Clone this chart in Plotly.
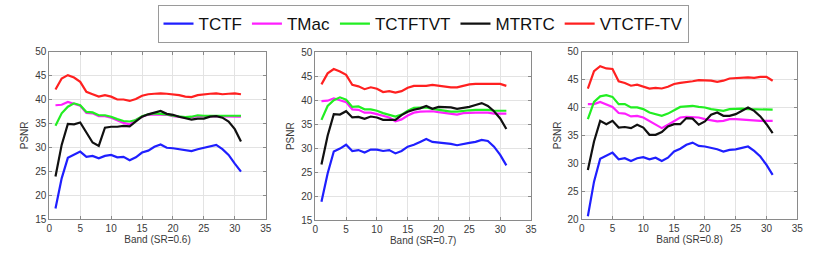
import plotly.graph_objects as go

bands = list(range(1, 32))
series_names = ["TCTF", "TMac", "TCTFTVT", "MTRTC", "VTCTF-TV"]
series_colors = ["#1f1fff", "#ff1fff", "#22ee22", "#111111", "#ff2020"]

# SR = 0.6
p1_tctf = [17.2, 23.5, 27.8, 28.4, 29.1, 28.0, 28.2, 27.7, 28.2, 28.4, 27.9, 28.0, 27.3, 27.9, 28.9, 29.3,
           30.1, 30.6, 29.9, 29.8, 29.6, 29.4, 29.2, 29.6, 29.9, 30.3, 30.5, 29.6, 28.4, 26.6, 24.9]
p1_tmac = [38.8, 38.9, 39.5, 39.1, 38.7, 37.2, 37.1, 36.5, 36.5, 36.2, 35.7, 35.1, 34.8, 35.7, 36.4, 36.8,
           36.9, 36.9, 36.8, 36.5, 36.3, 36.2, 36.3, 36.5, 36.5, 36.5, 36.5, 36.4, 36.4, 36.4, 36.4]
p1_tctftvt = [34.5, 37.1, 38.5, 39.2, 38.8, 37.4, 37.3, 36.7, 36.7, 36.4, 35.9, 35.5, 35.4, 35.7, 36.5, 36.9,
              37.1, 37.0, 36.9, 36.6, 36.5, 36.3, 36.4, 36.7, 36.6, 36.6, 36.6, 36.6, 36.6, 36.6, 36.6]
p1_mtrtc = [23.9, 30.5, 34.9, 34.8, 35.2, 33.1, 31.0, 30.3, 34.1, 34.3, 34.3, 34.5, 34.4, 35.4, 36.4, 36.9,
            37.3, 37.6, 37.0, 36.8, 36.4, 36.1, 35.8, 36.0, 36.0, 36.4, 36.5, 36.2, 35.4, 33.8, 31.2]
p1_vtctf = [42.1, 44.4, 45.1, 44.6, 43.7, 41.6, 41.1, 40.6, 40.9, 40.6, 40.0, 40.0, 39.7, 40.1, 40.8, 41.1,
            41.2, 41.3, 41.2, 41.1, 40.9, 40.6, 40.5, 40.9, 41.1, 41.2, 41.3, 41.1, 41.2, 41.3, 41.1]

# SR = 0.7
p2_tctf = [18.8, 24.7, 29.3, 29.9, 30.7, 29.4, 29.6, 29.1, 29.7, 29.7, 29.4, 29.6, 28.9, 29.4, 30.3, 30.7,
           31.3, 31.9, 31.3, 31.2, 31.1, 30.9, 30.6, 30.9, 31.1, 31.3, 31.7, 31.5, 30.3, 28.6, 26.4]
p2_tmac = [39.8, 39.9, 40.4, 40.0, 39.6, 38.1, 38.0, 37.4, 37.4, 37.1, 36.7, 36.4, 35.6, 36.0, 36.8, 37.4,
           37.6, 37.7, 37.7, 37.5, 37.3, 37.1, 37.0, 37.3, 37.4, 37.4, 37.4, 37.4, 37.2, 37.2, 37.2]
p2_tctftvt = [35.9, 38.8, 40.0, 40.6, 40.1, 38.6, 38.7, 38.1, 38.1, 37.8, 37.3, 37.0, 36.6, 37.0, 37.8, 38.4,
              38.5, 38.5, 38.2, 38.0, 37.7, 37.6, 37.6, 37.8, 37.9, 38.0, 38.0, 38.0, 37.8, 37.8, 37.8]
p2_mtrtc = [26.6, 32.6, 37.1, 37.0, 37.7, 36.4, 36.5, 36.1, 36.6, 36.4, 35.9, 35.9, 35.9, 36.9, 37.6, 38.0,
            38.3, 38.8, 38.2, 38.6, 38.6, 38.5, 38.2, 38.4, 38.6, 39.0, 39.4, 38.8, 37.7, 36.2, 34.0]
p2_vtctf = [43.3, 45.6, 46.5, 46.0, 45.3, 43.2, 42.9, 42.3, 42.7, 42.4, 41.7, 41.9, 41.6, 41.9, 42.6, 43.0,
            43.0, 43.0, 43.2, 43.0, 42.8, 42.7, 42.7, 43.0, 43.3, 43.4, 43.4, 43.4, 43.4, 43.4, 43.0]

# SR = 0.8
p3_tctf = [20.5, 26.7, 30.8, 31.3, 31.9, 30.7, 30.9, 30.4, 30.9, 31.1, 30.7, 31.0, 30.4, 31.0, 32.1, 32.6,
           33.3, 33.7, 33.1, 33.0, 32.8, 32.5, 32.1, 32.4, 32.5, 32.8, 33.0, 32.2, 31.2, 29.7, 27.9]
p3_tmac = [40.6, 40.6, 41.0, 40.6, 40.1, 39.0, 38.9, 38.4, 38.5, 38.2, 37.6, 36.9, 36.3, 36.9, 37.6, 38.2,
           38.3, 38.3, 38.2, 37.9, 37.7, 37.5, 37.6, 37.9, 37.9, 37.8, 37.8, 37.6, 37.6, 37.6, 37.6]
p3_tctftvt = [37.9, 41.0, 42.0, 42.2, 41.9, 40.6, 40.6, 40.0, 40.0, 39.7, 39.1, 38.8, 38.5, 38.9, 39.5, 40.1,
              40.2, 40.3, 40.1, 40.0, 39.7, 39.5, 39.4, 39.7, 39.8, 39.8, 39.7, 39.7, 39.6, 39.6, 39.6]
p3_mtrtc = [28.8, 33.9, 37.6, 37.0, 37.6, 36.4, 36.5, 36.3, 36.9, 36.4, 35.1, 35.1, 35.6, 36.6, 37.0, 37.0,
            38.1, 38.0, 36.9, 37.5, 38.7, 39.1, 38.5, 38.5, 38.8, 39.4, 40.0, 39.4, 38.4, 37.0, 35.4]
p3_vtctf = [43.4, 46.5, 47.4, 47.0, 46.9, 44.7, 44.4, 43.9, 44.1, 43.8, 43.4, 43.5, 43.4, 43.7, 44.2, 44.4,
            44.5, 44.7, 44.9, 44.9, 44.8, 44.6, 44.8, 45.2, 45.3, 45.4, 45.4, 45.3, 45.5, 45.5, 44.8]

panels = [
    dict(series=[p1_tctf, p1_tmac, p1_tctftvt, p1_mtrtc, p1_vtctf], xtitle="Band (SR=0.6)",
         yrange=[15, 50], yticks=[15, 20, 25, 30, 35, 40, 45, 50]),
    dict(series=[p2_tctf, p2_tmac, p2_tctftvt, p2_mtrtc, p2_vtctf], xtitle="Band (SR=0.7)",
         yrange=[15, 50], yticks=[15, 20, 25, 30, 35, 40, 45, 50]),
    dict(series=[p3_tctf, p3_tmac, p3_tctftvt, p3_mtrtc, p3_vtctf], xtitle="Band (SR=0.8)",
         yrange=[20, 50], yticks=[20, 25, 30, 35, 40, 45, 50]),
]
xticks = [0, 5, 10, 15, 20, 25, 30, 35]

W, H = 830, 258
xdoms = [(49.3, 265.7), (315.3, 531.0), (581.7, 797.3)]
ydoms = [(51.7, 219.0), (52.3, 220.0), (51.7, 219.0)]

fig = go.Figure()
font_family = "Liberation Sans, Arial, sans-serif"

for i, p in enumerate(panels):
    ax = "" if i == 0 else str(i + 1)
    for k, vals in enumerate(p["series"]):
        fig.add_trace(go.Scatter(
            x=bands, y=vals, mode="lines", name=series_names[k],
            line=dict(color=series_colors[k], width=2.2),
            xaxis="x" + ax, yaxis="y" + ax, showlegend=(i == 0)))
    x0, x1 = xdoms[i]
    yt, yb = ydoms[i]
    common = dict(showline=True, linecolor="#8a8a8a", linewidth=1, mirror="ticks",
                  ticks="inside", ticklen=3, tickcolor="#8a8a8a",
                  showgrid=True, gridcolor="#e3e3e3", gridwidth=1, zeroline=False,
                  automargin=False,
                  tickfont=dict(size=10, color="#3a3a3a", family=font_family))
    fig.layout["xaxis" + ax] = dict(
        domain=[x0 / W, x1 / W], range=[0, 35], tickvals=xticks, anchor="y" + ax,
        title=dict(text=p["xtitle"], font=dict(size=10, color="#3a3a3a", family=font_family), standoff=1),
        **common)
    fig.layout["yaxis" + ax] = dict(
        domain=[1 - yb / H, 1 - yt / H], range=p["yrange"], tickvals=p["yticks"], anchor="x" + ax,
        title=dict(text="PSNR", font=dict(size=10, color="#3a3a3a", family=font_family), standoff=4),
        **common)

fig.update_layout(
    width=W, height=H, margin=dict(l=0, r=0, t=0, b=0, autoexpand=False),
    paper_bgcolor="white", plot_bgcolor="white",
    legend=dict(orientation="h", x=423 / W, xanchor="center", yref="container", y=1 - 5 / H, yanchor="top",
                font=dict(size=17, color="#111111", family=font_family),
                bordercolor="#9a9a9a", borderwidth=1, bgcolor="white",
                itemwidth=30, tracegroupgap=0),
    showlegend=True,
)

fig.write_html("out.html", config={"displayModeBar": False},
               post_script="document.body.style.margin='0';")
